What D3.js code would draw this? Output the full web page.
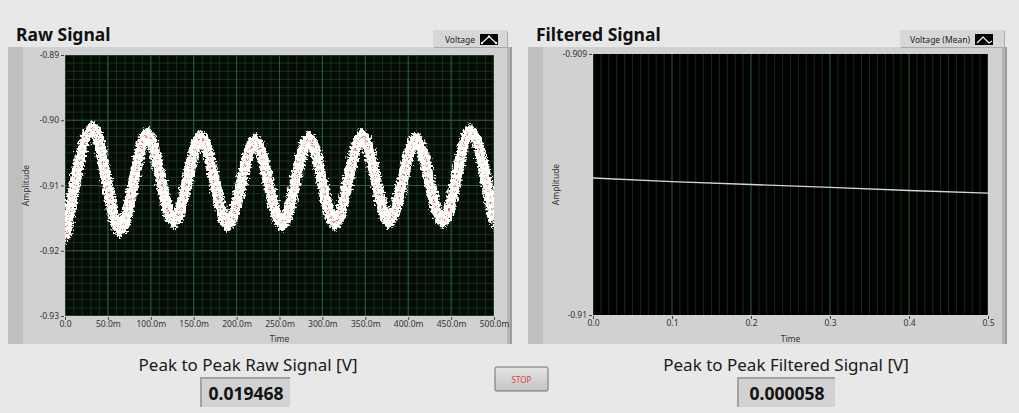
<!DOCTYPE html>
<html>
<head>
<meta charset="utf-8">
<script src="https://cdn.jsdelivr.net/npm/d3@7"></script>
<style>
  html, body { margin: 0; padding: 0; background: #e8e8e8; }
  svg { display: block; }
  text { font-family: "Noto Sans", "Open Sans", sans-serif; }
</style>
</head>
<body>
<svg id="panel" width="1019" height="413"></svg>
<script>
// ---- Raw signal: band envelope sampled at each crest/trough (time in ms, volts)
const rawTime  = [0, 32.6, 64.1, 95.6, 127.0, 158.5, 190.0, 221.4, 252.9, 284.4, 314.7, 346.2, 377.6, 409.1, 440.6, 472.0, 500];
const rawUpper = [-0.91667, -0.90010, -0.91559, -0.90103, -0.91421, -0.90149, -0.91467, -0.90195, -0.91467, -0.90165, -0.91452, -0.90119, -0.91421, -0.90180, -0.91421, -0.90057, -0.91406];
const rawLower = [-0.919568, -0.90255, -0.91805, -0.90349, -0.91667, -0.90395, -0.91713, -0.90441, -0.91713, -0.90410, -0.91697, -0.90364, -0.91667, -0.90425, -0.91667, -0.90303, -0.91713];

// ---- Filtered (running mean) signal
const filtTime  = [0, 0.1, 0.2, 0.3, 0.4, 0.5];
const filtValue = [-0.909475, -0.909489, -0.909500, -0.909511, -0.909523, -0.909533];

// ---- Axis ticks
const rawXTicks  = [0, 50, 100, 150, 200, 250, 300, 350, 400, 450, 500];
const rawXLabels = ["0.0", "50.0m", "100.0m", "150.0m", "200.0m", "250.0m", "300.0m", "350.0m", "400.0m", "450.0m", "500.0m"];
const rawYTicks  = [-0.89, -0.90, -0.91, -0.92, -0.93];
const rawYLabels = ["-0.89", "-0.90", "-0.91", "-0.92", "-0.93"];
const filtXTicks  = [0, 0.1, 0.2, 0.3, 0.4, 0.5];
const filtXLabels = ["0.0", "0.1", "0.2", "0.3", "0.4", "0.5"];
const filtYTicks  = [-0.909, -0.91];
const filtYLabels = ["-0.909", "-0.91"];

// ---- Indicator readouts
const rawPeakToPeak  = 0.019468;
const filtPeakToPeak = 0.000058;

const svg = d3.select("#panel");
const defs = svg.append("defs");

// rough edge for the noisy trace
const jitter = defs.append("filter").attr("id", "jitter")
  .attr("x", "-5%").attr("y", "-10%").attr("width", "110%").attr("height", "120%");
jitter.append("feTurbulence").attr("type", "fractalNoise").attr("baseFrequency", 0.45)
  .attr("numOctaves", 2).attr("seed", 3).attr("result", "n");
jitter.append("feDisplacementMap").attr("in", "SourceGraphic").attr("in2", "n")
  .attr("scale", 8).attr("xChannelSelector", "R").attr("yChannelSelector", "G");

const speck = defs.append("filter").attr("id", "speck")
  .attr("x", "-5%").attr("y", "-10%").attr("width", "110%").attr("height", "120%");
speck.append("feTurbulence").attr("type", "fractalNoise").attr("baseFrequency", 0.6)
  .attr("numOctaves", 1).attr("seed", 9).attr("result", "n");
speck.append("feDisplacementMap").attr("in", "SourceGraphic").attr("in2", "n")
  .attr("scale", 10).attr("xChannelSelector", "R").attr("yChannelSelector", "G");

const btnGrad = defs.append("linearGradient").attr("id", "btn").attr("x1", 0).attr("y1", 0).attr("x2", 0).attr("y2", 1);
btnGrad.append("stop").attr("offset", "0%").attr("stop-color", "#e4e4e4");
btnGrad.append("stop").attr("offset", "100%").attr("stop-color", "#c4c4c4");

// ---------- graph frame helper ----------
function frame(x0, x1, y0, y1, id) {
  defs.append("clipPath").attr("id", id).append("rect")
    .attr("x", x0).attr("y", y0).attr("width", x1 - x0).attr("height", y1 - y0);
  const g = svg.append("g").attr("clip-path", `url(#${id})`);
  g.append("rect").attr("x", x0).attr("y", y0).attr("width", x1 - x0).attr("height", y1 - y0).attr("fill", "#d1d1d1");
  g.append("rect").attr("x", x0).attr("y", y0).attr("width", 15).attr("height", y1 - y0).attr("fill", "#bfbfbf");
  g.append("rect").attr("x", x1 - 5).attr("y", y0).attr("width", 5).attr("height", y1 - y0).attr("fill", "#b4b4b4");
  g.append("rect").attr("x", x1 - 2).attr("y", y0).attr("width", 2).attr("height", y1 - y0).attr("fill", "#9c9c9c");
  return g;
}

function legend(x0, x1, label, swatchX, pts, dots) {
  const g = svg.append("g");
  g.append("rect").attr("x", x0 + 1).attr("y", 31).attr("width", x1 - x0).attr("height", 17).attr("fill", "#a9a9a9");
  g.append("rect").attr("x", x0).attr("y", 30).attr("width", x1 - x0).attr("height", 17).attr("fill", "#d7d7d7");
  g.append("text").attr("x", swatchX - 5).attr("y", 42.5).attr("text-anchor", "end")
    .attr("font-size", 8.5).attr("fill", "#222").text(label);
  g.append("rect").attr("x", swatchX).attr("y", 34).attr("width", 18).attr("height", 11).attr("fill", "#000");
  g.append("polyline").attr("points", pts.map(p => p.join(",")).join(" "))
    .attr("fill", "none").attr("stroke", "#fff").attr("stroke-width", 1.1);
  if (dots) {
    pts.forEach(p => g.append("circle").attr("cx", p[0]).attr("cy", p[1]).attr("r", 1.2).attr("fill", "#fff"));
  }
}

function axisStyle(g) {
  g.select(".domain").remove();
  g.selectAll(".tick line").attr("stroke", "#444");
  g.selectAll(".tick text").attr("font-size", 8.5).attr("fill", "#333")
    .attr("font-family", "\"Noto Sans\", sans-serif");
}

// ===================== Raw Signal =====================
const gRaw = frame(8, 512, 47, 344, "clipRawFrame");

const xRaw = d3.scaleLinear().domain([0, 500]).range([65, 494]);
const yRaw = d3.scaleLinear().domain([-0.93, -0.89]).range([316, 55]);

gRaw.append("rect").attr("x", xRaw(0)).attr("y", yRaw(-0.89))
  .attr("width", xRaw(500) - xRaw(0)).attr("height", yRaw(-0.93) - yRaw(-0.89)).attr("fill", "#040b05");

defs.append("clipPath").attr("id", "clipRawPlot").append("rect")
  .attr("x", xRaw(0)).attr("y", yRaw(-0.89)).attr("width", xRaw(500) - xRaw(0)).attr("height", yRaw(-0.93) - yRaw(-0.89));
const rawPlot = gRaw.append("g").attr("clip-path", "url(#clipRawPlot)");

// grid: minor then major
const rawMinorX = d3.range(0, 501, 10);
const rawMinorY = d3.range(0, 33).map(i => -0.93 + i * 0.00125);
rawPlot.selectAll(".mx").data(rawMinorX).join("line")
  .attr("x1", d => xRaw(d)).attr("x2", d => xRaw(d)).attr("y1", yRaw(-0.89)).attr("y2", yRaw(-0.93))
  .attr("stroke", "#15301b").attr("stroke-width", 1);
rawPlot.selectAll(".my").data(rawMinorY).join("line")
  .attr("y1", d => yRaw(d)).attr("y2", d => yRaw(d)).attr("x1", xRaw(0)).attr("x2", xRaw(500))
  .attr("stroke", "#15301b").attr("stroke-width", 1);
rawPlot.selectAll(".Mx").data(rawXTicks).join("line")
  .attr("x1", d => xRaw(d)).attr("x2", d => xRaw(d)).attr("y1", yRaw(-0.89)).attr("y2", yRaw(-0.93))
  .attr("stroke", "#2c5e35").attr("stroke-width", 1);
rawPlot.selectAll(".My").data(rawYTicks).join("line")
  .attr("y1", d => yRaw(d)).attr("y2", d => yRaw(d)).attr("x1", xRaw(0)).attr("x2", xRaw(500))
  .attr("stroke", "#2c5e35").attr("stroke-width", 1);

// noisy trace
const rawRows = rawTime.map((t, i) => ({ t, hi: rawUpper[i], lo: rawLower[i], mid: (rawUpper[i] + rawLower[i]) / 2 }));
const band = d3.area().x(d => xRaw(d.t)).y0(d => yRaw(d.lo)).y1(d => yRaw(d.hi)).curve(d3.curveMonotoneX);
const mid = d3.line().x(d => xRaw(d.t)).y(d => yRaw(d.mid)).curve(d3.curveMonotoneX);
const trace = rawPlot.append("g").attr("filter", "url(#jitter)");
trace.append("path").datum(rawRows).attr("d", band).attr("fill", "#fdfdfd");
trace.append("path").datum(rawRows).attr("d", mid).attr("fill", "none")
  .attr("stroke", "#fdfdfd").attr("stroke-width", 11).attr("stroke-linejoin", "round");
rawPlot.append("path").datum(rawRows).attr("d", mid).attr("fill", "none")
  .attr("filter", "url(#speck)")
  .attr("stroke", "#bf5f2e").attr("stroke-width", 2.2).attr("stroke-dasharray", "1.5 4.5").attr("opacity", 0.85);

// axes
gRaw.append("g").attr("transform", `translate(${xRaw(0) - 1},0)`)
  .call(d3.axisLeft(yRaw).tickValues(rawYTicks).tickFormat((d, i) => rawYLabels[i]).tickSize(3).tickPadding(2))
  .call(axisStyle);
gRaw.append("g").attr("transform", `translate(0,${yRaw(-0.93) + 1})`)
  .call(d3.axisBottom(xRaw).tickValues(rawXTicks).tickFormat((d, i) => rawXLabels[i]).tickSize(3).tickPadding(1))
  .call(axisStyle);
gRaw.append("text").attr("transform", `translate(29,${(yRaw(-0.89) + yRaw(-0.93)) / 2}) rotate(-90)`)
  .attr("text-anchor", "middle").attr("font-size", 8.5).attr("fill", "#333").text("Amplitude");
gRaw.append("text").attr("x", (xRaw(0) + xRaw(500)) / 2).attr("y", 342)
  .attr("text-anchor", "middle").attr("font-size", 8.5).attr("fill", "#333").text("Time");

legend(433, 507, "Voltage", 480, [[482, 43], [489, 36.5], [496, 43]], true);
svg.append("text").attr("x", 16).attr("y", 41).attr("font-size", 17.5).attr("font-weight", "bold")
  .attr("fill", "#111").text("Raw Signal");

// ===================== Filtered Signal =====================
const gFil = frame(528, 1007, 47, 344, "clipFilFrame");

const xFil = d3.scaleLinear().domain([0, 0.5]).range([593, 988]);
const yFil = d3.scaleLinear().domain([-0.91, -0.909]).range([315, 54]);

gFil.append("rect").attr("x", xFil(0)).attr("y", yFil(-0.909))
  .attr("width", xFil(0.5) - xFil(0)).attr("height", yFil(-0.91) - yFil(-0.909)).attr("fill", "#000");
defs.append("clipPath").attr("id", "clipFilPlot").append("rect")
  .attr("x", xFil(0)).attr("y", yFil(-0.909)).attr("width", xFil(0.5) - xFil(0)).attr("height", yFil(-0.91) - yFil(-0.909));
const filPlot = gFil.append("g").attr("clip-path", "url(#clipFilPlot)");

const filMinorX = d3.range(0, 51).map(i => i * 0.01);
filPlot.selectAll(".mx").data(filMinorX).join("line")
  .attr("x1", d => xFil(d)).attr("x2", d => xFil(d)).attr("y1", yFil(-0.909)).attr("y2", yFil(-0.91))
  .attr("stroke", "#142a18").attr("stroke-width", 1);
filPlot.selectAll(".Mx").data(filtXTicks).join("line")
  .attr("x1", d => xFil(d)).attr("x2", d => xFil(d)).attr("y1", yFil(-0.909)).attr("y2", yFil(-0.91))
  .attr("stroke", "#244a2b").attr("stroke-width", 1);

const filRows = filtTime.map((t, i) => ({ t, v: filtValue[i] }));
filPlot.append("path").datum(filRows)
  .attr("d", d3.line().x(d => xFil(d.t)).y(d => yFil(d.v)))
  .attr("fill", "none").attr("stroke", "#d6d6d6").attr("stroke-width", 1.4);

gFil.append("g").attr("transform", `translate(${xFil(0) - 1},0)`)
  .call(d3.axisLeft(yFil).tickValues(filtYTicks).tickFormat((d, i) => filtYLabels[i]).tickSize(3).tickPadding(2))
  .call(axisStyle);
gFil.append("g").attr("transform", `translate(0,${yFil(-0.91) + 1})`)
  .call(d3.axisBottom(xFil).tickValues(filtXTicks).tickFormat((d, i) => filtXLabels[i]).tickSize(3).tickPadding(1))
  .call(axisStyle);
gFil.append("text").attr("transform", `translate(559,${(yFil(-0.909) + yFil(-0.91)) / 2}) rotate(-90)`)
  .attr("text-anchor", "middle").attr("font-size", 8.5).attr("fill", "#333").text("Amplitude");
gFil.append("text").attr("x", (xFil(0) + xFil(0.5)) / 2).attr("y", 342)
  .attr("text-anchor", "middle").attr("font-size", 8.5).attr("fill", "#333").text("Time");

legend(900, 1004, "Voltage (Mean)", 975, [[977, 43], [983, 37], [989, 43], [992, 41]], false);
svg.append("text").attr("x", 536).attr("y", 41).attr("font-size", 17.5).attr("font-weight", "bold")
  .attr("fill", "#111").text("Filtered Signal");

// ===================== Indicators =====================
function indicator(cx, label, value, boxX0, boxX1) {
  svg.append("text").attr("x", cx).attr("y", 371).attr("text-anchor", "middle")
    .attr("font-size", 17).attr("fill", "#1a1a1a").text(label);
  svg.append("rect").attr("x", boxX0).attr("y", 377).attr("width", boxX1 - boxX0).attr("height", 30).attr("fill", "#a2a2a2");
  svg.append("rect").attr("x", boxX0 + 2).attr("y", 379).attr("width", boxX1 - boxX0 - 2).attr("height", 28).attr("fill", "#d2d2d2");
  svg.append("text").attr("x", (boxX0 + boxX1) / 2 + 1).attr("y", 399.5).attr("text-anchor", "middle")
    .attr("font-size", 17.5).attr("font-weight", "bold").attr("fill", "#111").text(value.toFixed(6));
}
indicator(248, "Peak to Peak Raw Signal [V]", rawPeakToPeak, 200, 290);
indicator(786, "Peak to Peak Filtered Signal [V]", filtPeakToPeak, 737, 835);

// STOP button
svg.append("rect").attr("x", 495).attr("y", 367).attr("width", 53).attr("height", 24)
  .attr("rx", 1.5).attr("fill", "url(#btn)").attr("stroke", "#6e6e6e").attr("stroke-width", 1);
svg.append("text").attr("x", 521.5).attr("y", 382.5).attr("text-anchor", "middle")
  .attr("font-size", 8).attr("fill", "#e23b3b").text("STOP");
</script>
</body>
</html>
